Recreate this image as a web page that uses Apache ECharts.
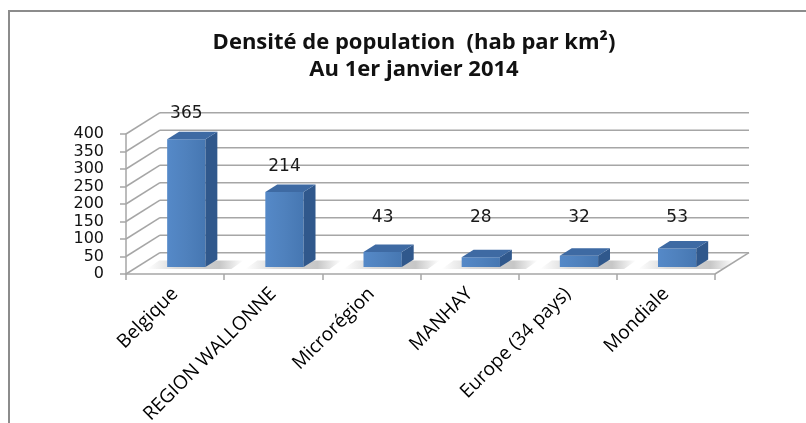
<!DOCTYPE html>
<html>
<head>
<meta charset="utf-8">
<script src="https://cdn.jsdelivr.net/npm/echarts@6/dist/echarts.min.js"></script>
<style>
  html, body { margin: 0; padding: 0; background: #fff; }
  #chart { width: 806px; height: 423px; }
</style>
</head>
<body>
<div id="chart"></div>
<script>
// Densité de population au 1er janvier 2014 (habitants par km²)
const categories = ['Belgique', 'REGION WALLONNE', 'Microrégion', 'MANHAY', 'Europe (34 pays)', 'Mondiale'];
const densities = [365, 214, 43, 28, 32, 53];
const yTicks = [0, 50, 100, 150, 200, 250, 300, 350, 400];
const titleLines = ['Densité de population  (hab par km²)', 'Au 1er janvier 2014'];

// oblique depth of the 3D box (pixels from the front plane to the back wall)
const DEPTH_X = 34;
const DEPTH_Y = -21.3;
// bars sit between these fractions of the depth
const BAR_FRONT = 0.33;
const BAR_BACK = 0.68;
const BAR_WIDTH = 0.39;

const GRID_COLOR = '#a6a6a6';

const chart = echarts.init(document.getElementById('chart'), null, { renderer: 'canvas' });

// back wall, side wall and floor lines, one per tick value
function renderWalls(params, api) {
  const v = api.value(1);
  const cs = params.coordSys;
  const y = api.coord([0, v])[1];
  const x0 = cs.x;
  const x1 = cs.x + cs.width;
  const style = { stroke: GRID_COLOR, lineWidth: 1.5 };
  const children = [
    { type: 'line', shape: { x1: x0, y1: y, x2: x0 + DEPTH_X, y2: y + DEPTH_Y }, style },
    { type: 'line', shape: { x1: x0 + DEPTH_X, y1: y + DEPTH_Y, x2: x1 + DEPTH_X, y2: y + DEPTH_Y }, style }
  ];
  if (v === 0) {
    children.push({ type: 'line', shape: { x1: x1, y1: y, x2: x1 + DEPTH_X, y2: y + DEPTH_Y }, style });
  }
  return { type: 'group', children };
}

function renderBar(params, api) {
  const idx = api.value(0);
  const v = api.value(1);
  const base = api.coord([idx, 0]);
  const top = api.coord([idx, v]);
  const band = api.size([1, 0])[0];
  const w = band * BAR_WIDTH;
  const fx = DEPTH_X * BAR_FRONT, fy = DEPTH_Y * BAR_FRONT;
  const bx = DEPTH_X * BAR_BACK, by = DEPTH_Y * BAR_BACK;
  const L = base[0] - w / 2, R = base[0] + w / 2;
  const y0 = base[1], y1 = top[1];

  // soft shadow cast on the floor around the foot of the bar
  const shadow = {
    type: 'polygon',
    shape: { points: [
      [L + fx - 20, y0 + fy + 2], [R + fx + 26, y0 + fy + 2],
      [R + bx + 26, y0 + by + 1], [L + bx - 20, y0 + by + 1]
    ] },
    style: {
      fill: new echarts.graphic.LinearGradient(0, 0, 1, 0, [
        { offset: 0, color: 'rgba(130,130,130,0)' },
        { offset: 0.3, color: 'rgba(130,130,130,0.3)' },
        { offset: 0.75, color: 'rgba(130,130,130,0.45)' },
        { offset: 1, color: 'rgba(130,130,130,0)' }
      ])
    },
    silent: true
  };
  const front = {
    type: 'rect',
    shape: { x: L + fx, y: y1 + fy, width: w, height: y0 - y1 },
    style: {
      fill: new echarts.graphic.LinearGradient(0, 0, 1, 0, [
        { offset: 0, color: '#5589c8' },
        { offset: 0.5, color: '#4f81bd' },
        { offset: 1, color: '#4677b2' }
      ])
    }
  };
  const side = {
    type: 'polygon',
    shape: { points: [[R + fx, y1 + fy], [R + bx, y1 + by], [R + bx, y0 + by], [R + fx, y0 + fy]] },
    style: { fill: '#30588c' }
  };
  const cap = {
    type: 'polygon',
    shape: { points: [[L + fx, y1 + fy], [R + fx, y1 + fy], [R + bx, y1 + by], [L + bx, y1 + by]] },
    style: { fill: '#3e6aa3' }
  };
  // value label above the bar, kept clear of the floor for short bars
  const floorBack = y0 + DEPTH_Y;
  const labelY = Math.min(y1 + by - 18, floorBack - 35);
  const label = {
    type: 'text',
    x: base[0] + fx,
    y: labelY,
    style: {
      text: String(v),
      fill: '#1a1a1a',
      font: '17px "DejaVu Sans"',
      align: 'center',
      verticalAlign: 'middle'
    }
  };
  return { type: 'group', children: [shadow, front, side, cap, label] };
}

const option = {
  backgroundColor: '#ffffff',
  animation: false,
  graphic: [
    {
      type: 'rect',
      shape: { x: 9, y: 11, width: 830, height: 440 },
      style: { fill: 'none', stroke: '#8c8c8c', lineWidth: 2 },
      silent: true
    },
    {
      type: 'text',
      x: 414, y: 43,
      style: { text: titleLines[0], font: 'bold 22px "Open Sans"', fill: '#111', align: 'center', verticalAlign: 'middle' }
    },
    {
      type: 'text',
      x: 414, y: 70,
      style: { text: titleLines[1], font: 'bold 22px "Open Sans"', fill: '#111', align: 'center', verticalAlign: 'middle' }
    }
  ],
  grid: { left: 126, right: 91, top: 134, bottom: 149, containLabel: false, outerBoundsMode: 'none' },
  xAxis: {
    type: 'category',
    data: categories,
    boundaryGap: true,
    axisLine: { show: true, lineStyle: { color: GRID_COLOR, width: 1.5 } },
    axisTick: { show: true, length: 6, lineStyle: { color: GRID_COLOR, width: 1.5 } },
    axisLabel: {
      interval: 0,
      rotate: 45,
      margin: 17,
      color: '#000',
      fontFamily: 'Open Sans',
      fontSize: 19
    },
    splitLine: { show: false }
  },
  yAxis: {
    type: 'value',
    min: 0,
    max: 400,
    interval: 50,
    axisLine: { show: true, lineStyle: { color: GRID_COLOR, width: 1.5 } },
    axisTick: { show: true, length: 6, lineStyle: { color: GRID_COLOR, width: 1.5 } },
    axisLabel: {
      margin: 22,
      color: '#111',
      fontFamily: 'DejaVu Sans',
      fontSize: 16,
      customValues: yTicks
    },
    splitLine: { show: false }
  },
  series: [
    {
      type: 'custom',
      name: 'walls',
      renderItem: renderWalls,
      data: yTicks.map(v => [0, v]),
      clip: false,
      silent: true,
      z: 1
    },
    {
      type: 'custom',
      name: 'Densité',
      renderItem: renderBar,
      data: densities.map((v, i) => [i, v]),
      clip: false,
      z: 3
    }
  ]
};

chart.setOption(option);
</script>
</body>
</html>
